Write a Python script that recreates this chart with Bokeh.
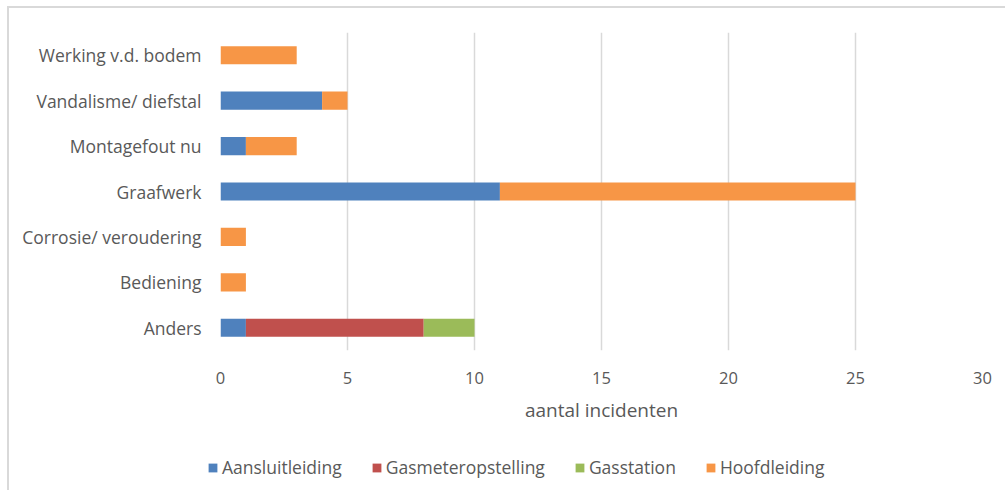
from bokeh.plotting import figure
from bokeh.layouts import column, row
from bokeh.models import ColumnDataSource, FactorRange, Range1d, FixedTicker, Legend, LegendItem
from bokeh.embed import file_html
from bokeh.resources import INLINE

# Incident causes, listed top to bottom as shown
categories = ["Werking v.d. bodem", "Vandalisme/ diefstal", "Montagefout nu", "Graafwerk",
              "Corrosie/ veroudering", "Bediening", "Anders"]
aansluitleiding    = [0, 4, 1, 11, 0, 0, 1]
gasmeteropstelling = [0, 0, 0, 0, 0, 0, 7]
gasstation         = [0, 0, 0, 0, 0, 0, 2]
hoofdleiding       = [3, 1, 2, 14, 1, 1, 0]

series = ["Aansluitleiding", "Gasmeteropstelling", "Gasstation", "Hoofdleiding"]
colors = ["#4F81BD", "#C0504D", "#9BBB59", "#F79646"]
x_ticks = [0, 5, 10, 15, 20, 25, 30]

source = ColumnDataSource(dict(
    cat=categories,
    Aansluitleiding=aansluitleiding,
    Gasmeteropstelling=gasmeteropstelling,
    Gasstation=gasstation,
    Hoofdleiding=hoofdleiding,
))

FONT = "Open Sans"
GREY = "#595959"

# main stacked bar chart
p = figure(
    width=996, height=432,
    y_range=FactorRange(factors=list(reversed(categories))),
    x_range=Range1d(0, 30),
    output_backend="svg", toolbar_location=None,
    min_border_left=211, min_border_right=23, min_border_top=24, min_border_bottom=90,
)

p.hbar_stack(series, y="cat", height=0.4, color=colors, source=source, line_color=None)

p.outline_line_color = None
p.border_fill_color = "white"

p.xaxis.ticker = FixedTicker(ticks=x_ticks)
p.xaxis.axis_line_color = None
p.xaxis.major_tick_line_color = None
p.xaxis.minor_tick_line_color = None
p.xaxis.major_tick_out = 0
p.xaxis.major_label_standoff = 21
p.xaxis.major_label_text_font = FONT
p.xaxis.major_label_text_font_size = "16.5px"
p.xaxis.major_label_text_color = GREY
p.xaxis.axis_label = "aantal incidenten"
p.xaxis.axis_label_text_font = FONT
p.xaxis.axis_label_text_font_size = "19px"
p.xaxis.axis_label_text_font_style = "normal"
p.xaxis.axis_label_text_color = GREY
p.xaxis.axis_label_standoff = 10

p.yaxis.axis_line_color = None
p.yaxis.major_tick_line_color = None
p.yaxis.minor_tick_line_color = None
p.yaxis.major_tick_out = 0
p.yaxis.major_label_standoff = 19
p.yaxis.major_label_text_font = FONT
p.yaxis.major_label_text_font_size = "17.5px"
p.yaxis.major_label_text_color = GREY

p.xgrid.grid_line_color = "#D9D9D9"
p.xgrid.grid_line_width = 1.5
p.ygrid.grid_line_color = None

# legend strip below the chart
lg = figure(
    width=996, height=50,
    x_range=Range1d(0, 1), y_range=Range1d(0, 1),
    x_axis_type=None, y_axis_type=None,
    output_backend="svg", toolbar_location=None,
    min_border=0,
)
lg.outline_line_color = None
lg.xgrid.grid_line_color = None
lg.ygrid.grid_line_color = None

# colour swatches for the legend, kept outside the visible range
swatches = [lg.hbar(y=[-1], left=[0], right=[0], height=0.5, color=c, line_color=None)
            for c in colors]

legend = Legend(
    items=[LegendItem(label=s, renderers=[r]) for s, r in zip(series, swatches)],
    orientation="horizontal",
    location=(198, 11),
    padding=0, margin=0, spacing=29,
    glyph_width=11, glyph_height=11, label_standoff=4,
    label_text_font=FONT, label_text_font_size="17.5px", label_text_color=GREY,
    background_fill_alpha=0, border_line_color=None,
)
lg.add_layout(legend, "center")

page = column(p, row(lg, spacing=0), spacing=0)
page.styles = {"margin-left": "7px", "margin-top": "6px",
               "border-left": "2px solid #d9d9d9", "border-top": "2px solid #d9d9d9"}

open("out.html", "w").write(file_html(page, INLINE))
